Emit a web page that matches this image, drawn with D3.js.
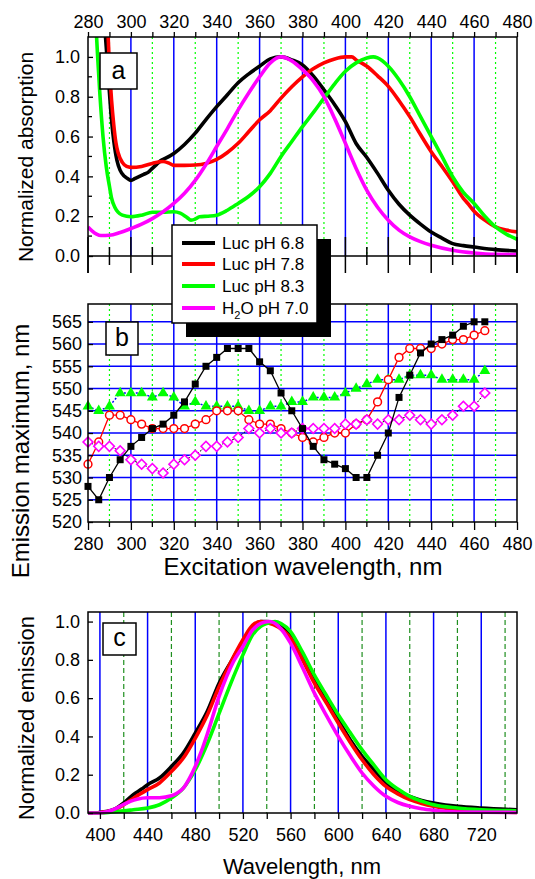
<!DOCTYPE html>
<html><head><meta charset="utf-8">
<script src="https://cdn.jsdelivr.net/npm/d3@7"></script>
<style>body{margin:0;background:#fff}svg{display:block;font-family:"Liberation Sans",Arial,sans-serif}</style>
</head><body>
<script>
// ---------- DATA ----------
// Panel a: absorption spectra
const absBlackX = [287.5,288.5,290,291,292,293.5,295,297,299,300,302,304,306,308,310,312,314,316,320,325,330,335,340,345,350,355,360,365,370,375,380,385,390,395,400,405,410,415,420,425,430,435,440,445,450,455,460,470,480];
const absBlackY = [1.2,1.05,0.82,0.68,0.58,0.48,0.43,0.40,0.385,0.38,0.39,0.40,0.41,0.42,0.44,0.46,0.48,0.49,0.515,0.56,0.617,0.685,0.75,0.81,0.87,0.915,0.953,0.99,1.0,0.985,0.96,0.905,0.835,0.76,0.675,0.565,0.495,0.415,0.33,0.26,0.205,0.16,0.12,0.09,0.062,0.052,0.045,0.032,0.025];
const absRedX = [289,290,291,292,293,294,296,298,300,305,310,315,318,320,325,330,335,340,345,350,355,360,365,370,375,380,385,390,395,400,403,405,410,415,420,425,430,435,440,445,450,455,457,460,465,470,475,480];
const absRedY = [1.2,0.95,0.78,0.66,0.57,0.52,0.47,0.45,0.445,0.45,0.465,0.475,0.465,0.455,0.455,0.457,0.465,0.485,0.52,0.566,0.625,0.684,0.73,0.793,0.85,0.9,0.94,0.97,0.99,1.0,1.0,0.985,0.953,0.905,0.852,0.78,0.70,0.61,0.524,0.45,0.373,0.29,0.265,0.225,0.18,0.146,0.13,0.121];
const absGreenX = [283.5,284.5,285.5,287,288.5,290,291,292.5,294,296,300,305,310,315,320,323,326,328,330,332,336,340,345,350,355,360,365,370,375,380,385,390,395,400,405,410,413,415,420,425,430,435,440,445,450,455,460,465,470,475,480];
const absGreenY = [1.2,1.0,0.82,0.6,0.45,0.35,0.29,0.245,0.22,0.205,0.197,0.205,0.22,0.22,0.222,0.215,0.195,0.18,0.185,0.197,0.2,0.205,0.23,0.264,0.3,0.348,0.415,0.5,0.575,0.65,0.72,0.793,0.865,0.928,0.97,0.995,1.0,0.995,0.953,0.885,0.8,0.7,0.6,0.5,0.398,0.32,0.264,0.2,0.146,0.11,0.084];
const absMagX = [280,282,284,286,290,295,300,305,310,315,320,325,330,335,340,345,350,355,360,365,370,375,380,385,390,395,400,405,410,415,420,425,430,435,440,450,460,470,480];
const absMagY = [0.146,0.125,0.11,0.103,0.104,0.118,0.138,0.16,0.188,0.222,0.264,0.315,0.38,0.46,0.55,0.64,0.734,0.82,0.9,0.97,1.0,0.98,0.936,0.88,0.8,0.69,0.566,0.44,0.33,0.245,0.18,0.13,0.096,0.072,0.054,0.029,0.015,0.008,0.007];

// Panel b: emission maximum vs excitation wavelength
const excX = [280,285,290,295,300,305,310,315,320,325,330,335,340,345,350,355,360,365,370,375,380,385,390,395,400,405,410,415,420,425,430,435,440,445,450,455,460,465];
const emBlack = [528,525,530,534,537,539,541,542,544,547,551,555,557,559,559,559,556,554,549,545,541,537,534,533,532,530,530,535,540,548,553,558,560,561,562,564,565,565];
const emRed   = [533,538,544,544,543,542,541,541,541,541,542,543,545,545,545,543,542,542,541,540,539,538,539,540,540,542,543,547,552,557,559,559,559,560,561,561,562,563];
const emGreen = [546,545,546,549,549,549,548,549,548,546,547,546,546,546,546,545,545,546,546,547,547,548,548,548,549,550,551,552,552,552,553,553,553,552,552,552,552,554];
const emMag   = [538,537,537,536,534,533,532,531,533,534,535,537,537,538,539,541,540,541,540,540,541,541,541,541,542,542,543,542,543,543,544,543,542,543,544,546,546,549];

// Panel c: emission spectra
const emiBlackX = [390,400,405,411,415,420,428,435,440,450,460,470,480,490,500,510,520,528,535,540,550,560,570,580,590,600,610,620,630,640,650,660,670,680,690,700,720,750];
const emiBlackY = [0,0.003,0.008,0.017,0.03,0.052,0.096,0.125,0.148,0.183,0.243,0.313,0.417,0.53,0.678,0.79,0.895,0.97,1.0,1.0,0.98,0.922,0.81,0.695,0.59,0.487,0.383,0.296,0.226,0.157,0.113,0.087,0.066,0.052,0.042,0.035,0.026,0.017];
const emiRedX = [390,400,410,420,430,440,450,460,470,480,490,500,510,520,528,535,540,550,560,570,580,590,600,610,620,630,640,650,660,670,680,700,720,750];
const emiRedY = [0,0.003,0.012,0.043,0.085,0.122,0.157,0.217,0.287,0.39,0.51,0.66,0.79,0.905,0.98,1.0,0.995,0.97,0.913,0.8,0.678,0.575,0.47,0.37,0.278,0.2,0.139,0.1,0.07,0.05,0.035,0.017,0.009,0.003];
const emiGreenX = [390,400,410,420,428,440,450,460,470,480,490,500,510,520,528,535,540,547,552,560,570,580,590,600,610,620,630,640,650,660,670,680,700,720,750];
const emiGreenY = [0,0,0.005,0.011,0.017,0.026,0.043,0.078,0.13,0.226,0.36,0.52,0.68,0.826,0.93,0.975,0.99,1.0,0.99,0.948,0.84,0.72,0.615,0.513,0.42,0.33,0.25,0.174,0.125,0.087,0.062,0.043,0.026,0.017,0.012];
const emiMagX = [390,400,405,411,420,426,431,440,450,460,465,470,475,480,485,490,500,512,520,528,535,542,550,560,570,580,590,600,610,620,630,640,650,660,670,680,700,750];
const emiMagY = [0,0,0.005,0.017,0.045,0.062,0.072,0.08,0.08,0.09,0.105,0.13,0.18,0.243,0.32,0.41,0.609,0.79,0.87,0.955,0.99,1.0,0.975,0.887,0.76,0.626,0.51,0.4,0.3,0.209,0.14,0.087,0.055,0.035,0.022,0.014,0.005,0.003];

const legendLabels = ["Luc pH 6.8","Luc pH 7.8","Luc pH 8.3","H2O pH 7.0"];
const seriesColors = ["#000000","#ff0000","#00ff00","#ff00ff"];

const ticksA = d3.range(280,481,10);
const yTicksA = [0,0.2,0.4,0.6,0.8,1.0];
const yTicksB = d3.range(520,566,5);
const yTicksC = [0,0.2,0.4,0.6,0.8,1.0];
const ticksC = d3.range(400,741,20);

// ---------- DRAW ----------
const W=535,H=879;
const svg=d3.select("body").append("svg").attr("width",W).attr("height",H);
const L=88,R=517;
const BLUE="#0000ff", GDOT="#00ff00", GDASH="#1f8f1f";

function zip(xs,ys){return xs.map((x,i)=>[x,ys[i]]);}
function styleAxis(g,fs){g.select(".domain").remove();g.selectAll("text").attr("font-size",fs).attr("fill","#000").attr("font-family","Liberation Sans, Arial, sans-serif");g.selectAll("line").attr("stroke","#000").attr("stroke-width",1.3);}

// ===== Panel a =====
const xA=d3.scaleLinear([280,480],[L,R]);
const yA=d3.scaleLinear([0,1.1],[256,37]);
const gA=svg.append("g");
gA.selectAll(".gb").data(d3.range(300,461,20)).join("line").attr("x1",d=>xA(d)).attr("x2",d=>xA(d)).attr("y1",37).attr("y2",256).attr("stroke",BLUE).attr("stroke-width",1.5);
gA.selectAll(".gg").data(d3.range(290,471,20)).join("line").attr("x1",d=>xA(d)).attr("x2",d=>xA(d)).attr("y1",37).attr("y2",256).attr("stroke",GDOT).attr("stroke-width",1.2).attr("stroke-dasharray","2,3");
svg.append("clipPath").attr("id","clipA").append("rect").attr("x",L).attr("y",37).attr("width",R-L).attr("height",256-37+2);
const lineA=d3.line().x(d=>xA(d[0])).y(d=>yA(d[1])).curve(d3.curveMonotoneX);
const absSeries=[zip(absBlackX,absBlackY),zip(absRedX,absRedY),zip(absGreenX,absGreenY),zip(absMagX,absMagY)];
gA.append("g").attr("clip-path","url(#clipA)").selectAll("path").data(absSeries).join("path")
  .attr("d",lineA).attr("fill","none").attr("stroke",(d,i)=>seriesColors[i]).attr("stroke-width",3.6).attr("stroke-linejoin","round");
gA.append("path").attr("d",`M${L},273V37H${R}V273`).attr("fill","none").attr("stroke","#000").attr("stroke-width",1.5);
gA.append("line").attr("x1",L).attr("x2",R).attr("y1",yA(0)).attr("y2",yA(0)).attr("stroke","#000").attr("stroke-width",1.5);
gA.selectAll(".bt").data(ticksA).join("line").attr("x1",d=>xA(d)).attr("x2",d=>xA(d))
  .attr("y1",d=>d%20===0?yA(0)-19:yA(0)-9).attr("y2",d=>d%20===0?yA(0)+17:yA(0)+9).attr("stroke","#000").attr("stroke-width",1.5);
const axTA=gA.append("g").attr("transform","translate(0,37)").call(d3.axisTop(xA).tickValues(ticksA).tickSize(5).tickPadding(4).tickFormat(d=>d%20===0?d:""));
styleAxis(axTA,18);
const axLA=gA.append("g").attr("transform",`translate(${L},0)`).call(d3.axisLeft(yA).tickValues(yTicksA).tickSize(-5).tickPadding(8).tickFormat(d3.format(".1f")));
styleAxis(axLA,18);
gA.selectAll(".mt").data([0.1,0.3,0.5,0.7,0.9]).join("line").attr("x1",L).attr("x2",L+4).attr("y1",d=>yA(d)).attr("y2",d=>yA(d)).attr("stroke","#000").attr("stroke-width",1.3);
gA.append("rect").attr("x",100).attr("y",53).attr("width",37).attr("height",36).attr("fill","#fff").attr("stroke","#000").attr("stroke-width",1.5);
gA.append("text").attr("x",118.5).attr("y",79).attr("text-anchor","middle").attr("font-size",25).text("a");
svg.append("text").attr("transform","translate(25,157) rotate(-90)").attr("text-anchor","middle").attr("dominant-baseline","central").attr("font-size",21).text("Normalized absorption");

// ===== Panel b =====
const xB=d3.scaleLinear([280,480],[L,R]);
const yB=d3.scaleLinear([520,569],[522,304]);
const gB=svg.append("g");
gB.selectAll(".hg").data(d3.range(525,566,5)).join("line").attr("x1",L).attr("x2",R).attr("y1",d=>yB(d)).attr("y2",d=>yB(d)).attr("stroke",BLUE).attr("stroke-width",1.5);
gB.selectAll(".vb").data(d3.range(300,461,20)).join("line").attr("x1",d=>xB(d)).attr("x2",d=>xB(d)).attr("y1",304).attr("y2",522).attr("stroke",BLUE).attr("stroke-width",1.5);
gB.selectAll(".vg").data(d3.range(290,471,20)).join("line").attr("x1",d=>xB(d)).attr("x2",d=>xB(d)).attr("y1",304).attr("y2",522).attr("stroke",GDOT).attr("stroke-width",1.2).attr("stroke-dasharray","2,3");
const lineB=d3.line().x(d=>xB(d[0])).y(d=>yB(d[1]));
const sq=d3.symbol().type(d3.symbolSquare).size(49)();
const tri=d3.symbol().type(d3.symbolTriangle).size(52)();
const dia=d3.symbol().type(d3.symbolSquare).size(48)();
gB.append("path").attr("d",lineB(zip(excX,emGreen))).attr("fill","none").attr("stroke",BLUE).attr("stroke-width",1.5).attr("stroke-dasharray","2,2");
gB.selectAll(".tr").data(zip(excX,emGreen)).join("path").attr("d",tri).attr("transform",d=>`translate(${xB(d[0])},${yB(d[1])})`).attr("fill","#00ff00");
gB.append("path").attr("d",lineB(zip(excX,emRed))).attr("fill","none").attr("stroke","#ff0000").attr("stroke-width",1.3);
gB.selectAll(".ci").data(zip(excX,emRed)).join("circle").attr("cx",d=>xB(d[0])).attr("cy",d=>yB(d[1])).attr("r",3.9).attr("fill","#fff").attr("stroke","#ff0000").attr("stroke-width",1.5);
gB.append("path").attr("d",lineB(zip(excX,emMag))).attr("fill","none").attr("stroke","#000").attr("stroke-width",1).attr("stroke-dasharray","2,1.5");
gB.selectAll(".di").data(zip(excX,emMag)).join("path").attr("d",dia).attr("transform",d=>`translate(${xB(d[0])},${yB(d[1])}) rotate(45)`).attr("fill","#fff").attr("stroke","#ff00ff").attr("stroke-width",1.6);
gB.append("path").attr("d",lineB(zip(excX,emBlack))).attr("fill","none").attr("stroke","#000").attr("stroke-width",1.3);
gB.selectAll(".sq").data(zip(excX,emBlack)).join("path").attr("d",sq).attr("transform",d=>`translate(${xB(d[0])},${yB(d[1])})`).attr("fill","#000");
gB.append("rect").attr("x",L).attr("y",304).attr("width",R-L).attr("height",522-304).attr("fill","none").attr("stroke","#000").attr("stroke-width",1.5);
const axBB=gB.append("g").attr("transform","translate(0,522)").call(d3.axisBottom(xB).tickValues(d3.range(280,481,20)).tickSize(8).tickPadding(7));
styleAxis(axBB,18);
gB.selectAll(".mb").data(d3.range(290,471,20)).join("line").attr("x1",d=>xB(d)).attr("x2",d=>xB(d)).attr("y1",522).attr("y2",527).attr("stroke","#000").attr("stroke-width",1.3);
const axLB=gB.append("g").attr("transform",`translate(${L},0)`).call(d3.axisLeft(yB).tickValues(yTicksB).tickSize(-5).tickPadding(6));
styleAxis(axLB,18);
gB.append("rect").attr("x",106).attr("y",322).attr("width",32).attr("height",33).attr("fill","#fff").attr("stroke","#000").attr("stroke-width",1.5);
gB.append("text").attr("x",122).attr("y",346).attr("text-anchor","middle").attr("font-size",25).text("b");
svg.append("text").attr("transform","translate(20,451) rotate(-90)").attr("text-anchor","middle").attr("dominant-baseline","central").attr("font-size",24).text("Emission maximum, nm");
svg.append("text").attr("x",303).attr("y",575).attr("text-anchor","middle").attr("font-size",24).text("Excitation wavelength, nm");

// ===== Legend =====
const gL=svg.append("g");
gL.append("rect").attr("x",186).attr("y",239).attr("width",145).attr("height",98).attr("fill","#000");
gL.append("rect").attr("x",172).attr("y",225).attr("width",145).attr("height",98).attr("fill","#fff").attr("stroke","#000").attr("stroke-width",1.5);
const rowY=[243,264,286,308];
legendLabels.forEach((lab,i)=>{
  gL.append("line").attr("x1",182).attr("x2",215).attr("y1",rowY[i]).attr("y2",rowY[i]).attr("stroke",seriesColors[i]).attr("stroke-width",4);
  const t=gL.append("text").attr("x",222).attr("y",rowY[i]+6).attr("font-size",17);
  if(lab.startsWith("H2O")){
    t.append("tspan").text("H");
    t.append("tspan").attr("font-size",11).attr("dy",5).text("2");
    t.append("tspan").attr("dy",-5).text("O"+lab.slice(3));
  } else t.text(lab);
});

// ===== Panel c =====
const xC=d3.scaleLinear([390,750],[L,R]);
const yC=d3.scaleLinear([0,1.05],[813,612]);
const gC=svg.append("g");
gC.selectAll(".cb").data(d3.range(400,721,40)).join("line").attr("x1",d=>xC(d)).attr("x2",d=>xC(d)).attr("y1",612).attr("y2",813).attr("stroke",BLUE).attr("stroke-width",1.5);
gC.selectAll(".cg").data(d3.range(420,741,40)).join("line").attr("x1",d=>xC(d)).attr("x2",d=>xC(d)).attr("y1",612).attr("y2",813).attr("stroke",GDASH).attr("stroke-width",1.2).attr("stroke-dasharray","5,3");
svg.append("clipPath").attr("id","clipC").append("rect").attr("x",L).attr("y",612).attr("width",R-L).attr("height",813-612+3);
const lineC=d3.line().x(d=>xC(d[0])).y(d=>yC(d[1])).curve(d3.curveMonotoneX);
const emiSeries=[zip(emiBlackX,emiBlackY),zip(emiRedX,emiRedY),zip(emiGreenX,emiGreenY),zip(emiMagX,emiMagY)];
gC.append("g").attr("clip-path","url(#clipC)").selectAll("path").data(emiSeries).join("path")
  .attr("d",lineC).attr("fill","none").attr("stroke",(d,i)=>seriesColors[i]).attr("stroke-width",3.6).attr("stroke-linejoin","round");
gC.append("rect").attr("x",L).attr("y",612).attr("width",R-L).attr("height",813-612).attr("fill","none").attr("stroke","#000").attr("stroke-width",1.5);
const axBC=gC.append("g").attr("transform","translate(0,813)").call(d3.axisBottom(xC).tickValues(ticksC).tickSize(6).tickPadding(9).tickFormat(d=>d%40===0?d:""));
styleAxis(axBC,18);
const axLC=gC.append("g").attr("transform",`translate(${L},0)`).call(d3.axisLeft(yC).tickValues(yTicksC).tickSize(-5).tickPadding(8).tickFormat(d3.format(".1f")));
styleAxis(axLC,18);
gC.append("rect").attr("x",103).attr("y",623).attr("width",33).attr("height",32).attr("fill","#fff").attr("stroke","#000").attr("stroke-width",1.5);
gC.append("text").attr("x",119.5).attr("y",646).attr("text-anchor","middle").attr("font-size",25).text("c");
svg.append("text").attr("transform","translate(26,718) rotate(-90)").attr("text-anchor","middle").attr("dominant-baseline","central").attr("font-size",22).text("Normalized emission");
svg.append("text").attr("x",302).attr("y",874).attr("text-anchor","middle").attr("font-size",22).text("Wavelength, nm");
</script>
</body></html>
